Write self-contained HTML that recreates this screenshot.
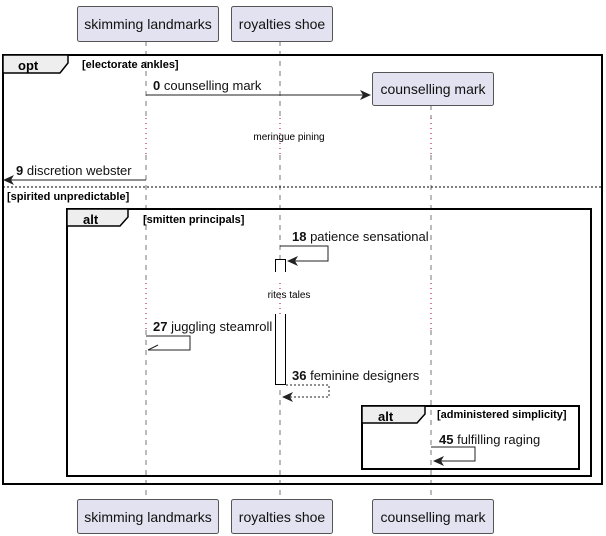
<!DOCTYPE html>
<html><head><style>
body{margin:0;background:#fff}
svg{display:block}
text{font-family:"Liberation Sans",sans-serif}
</style></head><body>
<svg width="606" height="536" viewBox="0 0 606 536" xmlns="http://www.w3.org/2000/svg">
<g stroke="#777" stroke-width="1" stroke-dasharray="5,5">
<line x1="146" y1="41" x2="146" y2="118"/><line x1="146" y1="155" x2="146" y2="283"/><line x1="146" y1="330" x2="146" y2="499"/>
<line x1="280" y1="41" x2="280" y2="118"/><line x1="280" y1="155" x2="280" y2="272"/><line x1="280" y1="330" x2="280" y2="499"/>
<line x1="431" y1="105" x2="431" y2="118"/><line x1="431" y1="155" x2="431" y2="283"/><line x1="431" y1="330" x2="431" y2="499"/>
</g>
<g stroke="#a0003a" stroke-width="1" stroke-dasharray="1,4">
<line x1="146" y1="118" x2="146" y2="155"/><line x1="280" y1="118" x2="280" y2="155"/><line x1="431" y1="118" x2="431" y2="155"/>
<line x1="146" y1="283" x2="146" y2="330"/><line x1="280" y1="283" x2="280" y2="314"/><line x1="431" y1="283" x2="431" y2="330"/>
</g>
<g fill="#e2e2f0" stroke="#555" stroke-width="1">
<rect x="77.5" y="6.5" width="141" height="35" rx="2"/>
<rect x="231.5" y="6.5" width="101" height="35" rx="2"/>
<rect x="372.5" y="72.5" width="121" height="33" rx="2"/>
<rect x="77.5" y="499.5" width="141" height="34" rx="2"/>
<rect x="231.5" y="499.5" width="101" height="34" rx="2"/>
<rect x="372.5" y="499.5" width="121" height="34" rx="2"/>
</g>
<g font-size="14" fill="#111" text-anchor="middle">
<text x="148" y="29">skimming landmarks</text>
<text x="282" y="29">royalties shoe</text>
<text x="433" y="94">counselling mark</text>
<text x="148" y="522">skimming landmarks</text>
<text x="282" y="522">royalties shoe</text>
<text x="433" y="522">counselling mark</text>
</g>
<g fill="none" stroke="#000" stroke-width="2">
<rect x="3" y="55" width="599" height="429"/>
<rect x="67" y="209" width="524" height="267"/>
<rect x="362" y="406" width="217" height="63"/>
</g>
<line x1="3" y1="187" x2="602" y2="187" stroke="#000" stroke-dasharray="2,2"/>
<g fill="#eee" stroke="#000" stroke-width="1.5">
<path d="M3 55 H68 V63 L60 73 H3 Z"/>
<path d="M67 209 H128 V217 L120 226 H67 Z"/>
<path d="M362 406 H425 V414 L417 423 H362 Z"/>
</g>
<g font-size="13" font-weight="bold" fill="#000">
<text x="18" y="70">opt</text>
<text x="83" y="224">alt</text>
<text x="378" y="421">alt</text>
</g>
<g font-size="11" font-weight="bold" fill="#000">
<text x="82" y="68">[electorate ankles]</text>
<text x="7" y="200">[spirited unpredictable]</text>
<text x="143" y="223">[smitten principals]</text>
<text x="437" y="418">[administered simplicity]</text>
</g>
<path d="M275.5 272 V259.5 H285.5 V272" fill="#fff" stroke="#000"/>
<path d="M275.5 314 V384.5 H285.5 V314" fill="#fff" stroke="#000"/>
<line x1="280" y1="330" x2="280" y2="384" stroke="#777" stroke-dasharray="5,5" opacity="0"/>
<g stroke="#222" stroke-width="1" fill="none">
<line x1="146" y1="95" x2="368" y2="95"/>
<line x1="146" y1="180" x2="5" y2="180"/>
<path d="M280 246 H328 V261 H289"/>
<path d="M146 336 H190 V350 H148"/>
<path d="M158 345 L148 350"/>
<path d="M286 385 H329 V397 H284" stroke-dasharray="2,2"/>
<path d="M431 447 H475 V461 H435"/>
</g>
<g fill="#222">
<polygon points="371,95 360,90 363,95 360,100"/>
<polygon points="3,180 14,175 11,180 14,185"/>
<polygon points="287,261 298,256 295,261 298,266"/>
<polygon points="282,397 293,392 290,397 293,402"/>
<polygon points="433,461 444,456 441,461 444,466"/>
</g>
<g font-size="13" fill="#111">
<text x="153" y="90"><tspan font-weight="bold">0</tspan> counselling mark</text>
<text x="16" y="175"><tspan font-weight="bold">9</tspan> discretion webster</text>
<text x="292" y="241"><tspan font-weight="bold">18</tspan> patience sensational</text>
<text x="153" y="331"><tspan font-weight="bold">27</tspan> juggling steamroll</text>
<text x="292" y="380"><tspan font-weight="bold">36</tspan> feminine designers</text>
<text x="439" y="444"><tspan font-weight="bold">45</tspan> fulfilling raging</text>
</g>
<g font-size="10" fill="#000" text-anchor="middle">
<text x="289" y="140">meringue pining</text>
<text x="289" y="298">rites tales</text>
</g>
</svg>
</body></html>
